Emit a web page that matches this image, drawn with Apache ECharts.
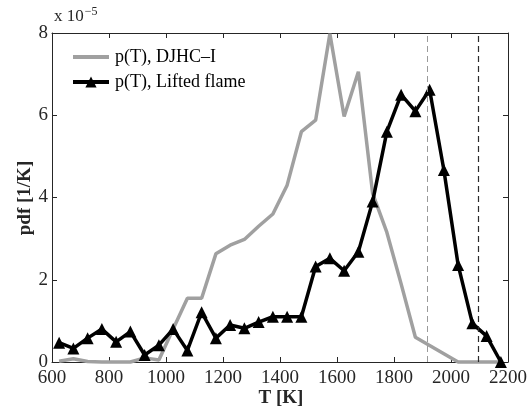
<!DOCTYPE html>
<html>
<head>
<meta charset="utf-8">
<script src="https://cdn.jsdelivr.net/npm/echarts@6/dist/echarts.min.js"></script>
<style>
  html, body { margin: 0; padding: 0; background: #fff; }
  #chart { width: 530px; height: 412px; }
</style>
</head>
<body>
<div id="chart"></div>
<script>
// Temperature bin centres [K]
const temperature = [625, 675, 725, 775, 825, 875, 925, 975, 1025, 1075, 1125, 1175,
  1225, 1275, 1325, 1375, 1425, 1475, 1525, 1575, 1625, 1675, 1725, 1775,
  1825, 1875, 1925, 1975, 2025, 2075, 2125, 2175];

// pdf values in units of 1e-5 1/K
const pdfDJHC = [0.02, 0.08, 0.01, 0, 0, 0, 0.1, 0.05, 0.8, 1.55, 1.55, 2.63,
  2.84, 2.98, 3.3, 3.6, 4.3, 5.6, 5.88, 7.98, 5.97, 7.06, 4.1, 3.15,
  1.9, 0.6, 0.4, 0.2, 0, 0, 0, 0];
const pdfLifted = [0.47, 0.33, 0.58, 0.8, 0.49, 0.74, 0.17, 0.41, 0.8, 0.28, 1.21, 0.58,
  0.9, 0.82, 0.97, 1.1, 1.1, 1.1, 2.32, 2.52, 2.22, 2.68, 3.9, 5.6,
  6.5, 6.1, 6.62, 4.67, 2.36, 0.94, 0.63, 0.0];

// Reference temperatures shown as dashed verticals
const refTempLight = 1917;
const refTempDark = 2096;

const xTicks = [600, 800, 1000, 1200, 1400, 1600, 1800, 2000, 2200];
const yTicks = [0, 2, 4, 6, 8];

const seriesNames = ['p(T), DJHC\u2013I', 'p(T), Lifted flame'];

const FONT = '"Liberation Serif", "Times New Roman", serif';
const AXIS_COLOR = '#262626';

const toPairs = (xs, ys) => xs.map((x, i) => [x, ys[i]]);

const chart = echarts.init(document.getElementById('chart'), null, { renderer: 'canvas' });

const baseX = {
  type: 'value',
  min: xTicks[0],
  max: xTicks[xTicks.length - 1],
  interval: 200,
  splitLine: { show: false },
  axisLine: { show: true, onZero: false, lineStyle: { color: AXIS_COLOR, width: 1 } },
  axisTick: { show: true, inside: true, length: 5, lineStyle: { color: AXIS_COLOR } }
};
const baseY = {
  type: 'value',
  min: yTicks[0],
  max: yTicks[yTicks.length - 1],
  interval: 2,
  splitLine: { show: false },
  axisLine: { show: true, onZero: false, lineStyle: { color: AXIS_COLOR, width: 1 } },
  axisTick: { show: true, inside: true, length: 5, lineStyle: { color: AXIS_COLOR } }
};

chart.setOption({
  animation: false,
  backgroundColor: '#ffffff',
  grid: { left: 52, top: 33, width: 456, height: 329, containLabel: false },
  xAxis: [
    Object.assign({}, baseX, {
      position: 'bottom',
      axisLabel: {
        show: true, margin: 7, color: AXIS_COLOR, fontFamily: FONT, fontSize: 19,
        formatter: (v) => String(v)
      }
    }),
    Object.assign({}, baseX, { position: 'top', axisLabel: { show: false } })
  ],
  yAxis: [
    Object.assign({}, baseY, {
      position: 'left',
      axisLabel: {
        show: true, margin: 4, color: AXIS_COLOR, fontFamily: FONT, fontSize: 19,
        formatter: (v) => String(v)
      }
    }),
    Object.assign({}, baseY, { position: 'right', axisLabel: { show: false } })
  ],
  legend: {
    orient: 'vertical',
    left: 66,
    top: 43,
    itemGap: 7,
    itemWidth: 36,
    itemHeight: 14,
    data: [
      { name: seriesNames[0], itemStyle: { opacity: 0 }, lineStyle: { width: 4, color: '#a0a0a0' } },
      { name: seriesNames[1], lineStyle: { width: 4, color: '#000' } }
    ],
    textStyle: { fontFamily: FONT, fontSize: 18, color: '#000', padding: [0, 0, 0, 1] }
  },
  series: [
    {
      name: seriesNames[0],
      type: 'line',
      data: toPairs(temperature, pdfDJHC),
      symbol: 'none',
      showSymbol: false,
      clip: false,
      lineStyle: { color: '#a0a0a0', width: 3.5 },
      itemStyle: { color: '#a0a0a0' },
      z: 2,
      markLine: {
        silent: true,
        symbol: 'none',
        label: { show: false },
        data: [
          { xAxis: refTempLight, lineStyle: { color: '#9a9a9a', width: 1, type: [6, 4] } },
          { xAxis: refTempDark, lineStyle: { color: '#2a2a2a', width: 1.2, type: [6, 4] } }
        ]
      }
    },
    {
      name: seriesNames[1],
      type: 'line',
      data: toPairs(temperature, pdfLifted),
      symbol: 'triangle',
      symbolSize: 12,
      showSymbol: true,
      clip: false,
      lineStyle: { color: '#000', width: 3.5 },
      itemStyle: { color: '#000' },
      z: 3
    }
  ],
  graphic: [
    {
      type: 'text',
      left: 54,
      top: 6,
      style: {
        text: 'x 10{sup|\u22125}',
        fontFamily: FONT,
        fontSize: 17,
        fill: AXIS_COLOR,
        rich: { sup: { fontFamily: FONT, fontSize: 12, fill: AXIS_COLOR, verticalAlign: 'top', padding: [0, 0, 10, 1] } }
      }
    },
    {
      type: 'text',
      x: 281,
      y: 398,
      style: {
        text: 'T [K]',
        fontFamily: FONT,
        fontSize: 19,
        fontWeight: 'bold',
        fill: AXIS_COLOR,
        align: 'center',
        verticalAlign: 'middle'
      }
    },
    {
      type: 'text',
      x: 25,
      y: 198,
      rotation: Math.PI / 2,
      style: {
        text: 'pdf [1/K]',
        fontFamily: FONT,
        fontSize: 19,
        fontWeight: 'bold',
        fill: AXIS_COLOR,
        align: 'center',
        verticalAlign: 'middle'
      }
    }
  ]
});
</script>
</body>
</html>
